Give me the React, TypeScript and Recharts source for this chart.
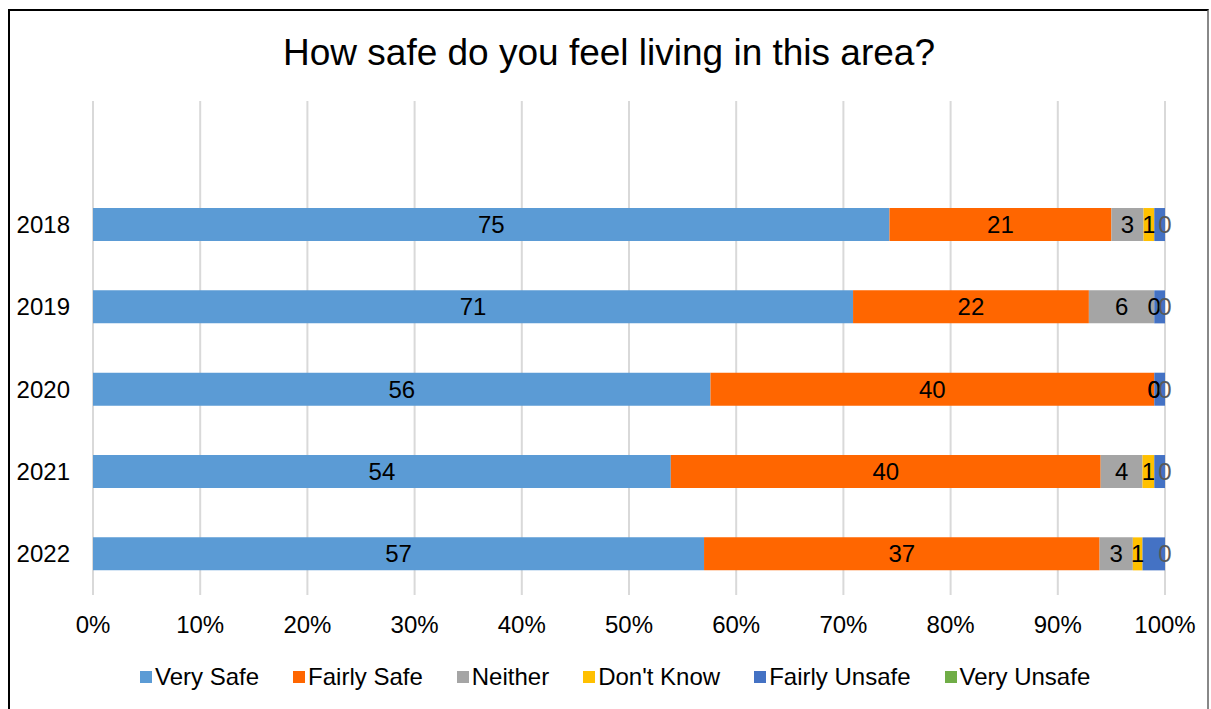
import { BarChart, Bar, XAxis, YAxis, CartesianGrid, LabelList } from 'recharts';

const years = ['', '2018', '2019', '2020', '2021', '2022'];

// segment shares (% of bar)
const verySafe = [0, 74.3, 70.9, 57.6, 53.9, 57.0];
const fairlySafe = [0, 20.7, 22.0, 41.4, 40.1, 36.9];
const neither = [0, 3.0, 6.1, 0, 3.9, 3.1];
const dontKnow = [0, 1.0, 0, 0, 1.1, 0.9];
const fairlyUnsafe = [0, 1.0, 1.0, 1.0, 1.0, 2.1];
const veryUnsafe = [0, 0, 0, 0, 0, 0];

// numbers printed on the bars
const verySafeLabels = [null, 75, 71, 56, 54, 57];
const fairlySafeLabels = [null, 21, 22, 40, 40, 37];
const neitherLabels = [null, 3, 6, 0, 4, 3];
const dontKnowLabels = [null, 1, 0, 0, 1, 1];
const veryUnsafeLabels = [null, 0, 0, 0, 0, 0];

const xTicks = [0, 0.1, 0.2, 0.3, 0.4, 0.5, 0.6, 0.7, 0.8, 0.9, 1];

const series = [
  { key: 'vs', name: 'Very Safe', color: '#5b9bd5', label: 'vsL', labelColor: '#000' },
  { key: 'fs', name: 'Fairly Safe', color: '#ff6600', label: 'fsL', labelColor: '#000' },
  { key: 'ne', name: 'Neither', color: '#a5a5a5', label: 'neL', labelColor: '#000' },
  { key: 'dk', name: "Don't Know", color: '#ffc000', label: 'dkL', labelColor: '#000' },
  { key: 'fu', name: 'Fairly Unsafe', color: '#4472c4', label: null, labelColor: '#000' },
  { key: 'vu', name: 'Very Unsafe', color: '#70ad47', label: 'vuL', labelColor: '#595959' },
];

const str = (v: number | null) => (v == null ? null : String(v));

const data = years.map((name, i) => ({
  name,
  vs: verySafe[i],
  fs: fairlySafe[i],
  ne: neither[i],
  dk: dontKnow[i],
  fu: fairlyUnsafe[i],
  vu: veryUnsafe[i],
  vsL: str(verySafeLabels[i]),
  fsL: str(fairlySafeLabels[i]),
  neL: str(neitherLabels[i]),
  dkL: str(dontKnowLabels[i]),
  vuL: str(veryUnsafeLabels[i]),
}));

const font = '"Liberation Sans", Arial, sans-serif';

const labelText = (key: string, x: number, y: number, value: string, color: string) => (
  <text key={key} x={x} y={y} textAnchor="middle" dominantBaseline="central" fill={color} fontSize={24} fontFamily={font}>
    {value}
  </text>
);

const makeLabel = (color: string) => (props: any) => {
  const { x, y, width, height, value } = props;
  if (value == null || value === '' || !(Number(width) > 0)) return null;
  return labelText('l', Number(x) + Number(width) / 2, Number(y) + Number(height) / 2, value, color);
};

// zero-width segments get no rectangle, so their "0" labels are hung on the
// edges of the Fairly Unsafe segment that sits between them
const zeroLabels = (props: any) => {
  const { x, y, width, height, value } = props;
  const i = years.indexOf(value);
  if (i < 1) return null;
  const left = Number(x);
  const right = Number(x) + Number(width);
  const cy = Number(y) + Number(height) / 2;
  const out = [];
  if (neither[i] === 0 && neitherLabels[i] != null) out.push(labelText('ne', left, cy, String(neitherLabels[i]), '#000'));
  if (dontKnow[i] === 0 && dontKnowLabels[i] != null) out.push(labelText('dk', left, cy, String(dontKnowLabels[i]), '#000'));
  if (veryUnsafe[i] === 0 && veryUnsafeLabels[i] != null) out.push(labelText('vu', right, cy, String(veryUnsafeLabels[i]), '#595959'));
  return <g>{out}</g>;
};

export default function App() {
  return (
    <div style={{ position: 'absolute', left: 0, top: 0, width: 1211, height: 709, overflow: 'hidden', background: '#fff', fontFamily: font }}>
      <div style={{ position: 'absolute', left: 8, top: 9, width: 1201, height: 720, boxSizing: 'border-box', borderLeft: '2px solid #000', borderTop: '2px solid #000', borderRight: '2px solid #888' }} />
      <div style={{ position: 'absolute', left: 0, top: 32, width: 1218, height: 42, lineHeight: '42px', textAlign: 'center', fontSize: 37, color: '#000', whiteSpace: 'nowrap' }}>
        How safe do you feel living in this area?
      </div>
      <div style={{ position: 'absolute', left: 0, top: 0 }}>
        <BarChart
          width={1211}
          height={709}
          data={data}
          layout="vertical"
          stackOffset="expand"
          barCategoryGap="30%"
          margin={{ top: 101, right: 46, bottom: 84, left: 0 }}
        >
          <CartesianGrid horizontal={false} stroke="#d9d9d9" strokeWidth={2} />
          <XAxis
            type="number"
            domain={[0, 1]}
            ticks={xTicks}
            tickFormatter={(v: number) => `${Math.round(v * 100)}%`}
            axisLine={false}
            tickLine={false}
            tickSize={0}
            tickMargin={21}
            height={30}
            tick={{ fontSize: 24, fill: '#000', fontFamily: font }}
          />
          <YAxis
            type="category"
            dataKey="name"
            width={93}
            axisLine={false}
            tickLine={false}
            tickSize={0}
            tickMargin={23}
            tick={{ fontSize: 24, fill: '#000', fontFamily: font }}
          />
          {series.map((s) => (
            <Bar key={s.key} dataKey={s.key} name={s.name} stackId="a" fill={s.color} isAnimationActive={false}>
              {s.label && <LabelList dataKey={s.label} content={makeLabel(s.labelColor)} />}
              {s.key === 'fu' && <LabelList dataKey="name" content={zeroLabels} />}
            </Bar>
          ))}
        </BarChart>
      </div>
      <div style={{ position: 'absolute', left: 140, top: 662, height: 30, display: 'flex', alignItems: 'center', gap: 34, fontSize: 24, color: '#000', whiteSpace: 'nowrap' }}>
        {series.map((s) => (
          <div key={s.key} style={{ display: 'flex', alignItems: 'center' }}>
            <span style={{ width: 12, height: 12, background: s.color, marginRight: 3, display: 'inline-block' }} />
            <span>{s.name}</span>
          </div>
        ))}
      </div>
    </div>
  );
}
